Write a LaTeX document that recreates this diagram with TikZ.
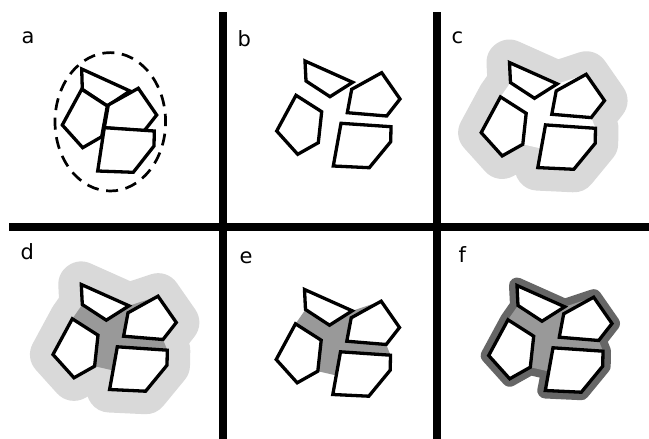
\documentclass[tikz,border=0pt]{standalone}
\usepackage{fontspec}
\setmainfont{DejaVu Sans}
\definecolor{halo}{HTML}{D9D9D9}
\definecolor{gapgray}{HTML}{999999}
\definecolor{rimgray}{HTML}{666666}
\tikzset{
  poly/.style={draw=black, fill=white, line width=3.3pt, line join=miter},
  hull/.style={insert path={(305,61) -- (352.7,82.3) -- (381.7,72.7) -- (400,99) -- (386.7,116) -- (391,126.7) -- (390.7,141.7) -- (369.3,167.7) -- (333.3,166) -- (337,147) -- (318.3,142.7) -- (297.7,154.3) -- (276.7,131) -- (296,95.3) -- (306,81) -- cycle}},
  lab/.style={font=\fontsize{21}{21}\selectfont, anchor=base west, inner sep=0pt},
  divider/.style={line width=7.5pt, line cap=butt},
  haloband/.style={draw=halo, fill=halo, line width=46pt, line join=round},
  rimband/.style={draw=rimgray, fill=rimgray, line width=16pt, line join=round},
}
\newcommand\fourpolys{%
  \path[poly] (305,61) -- (306,81) -- (330,96.7) -- (352.7,82.3) -- cycle;
  \path[poly] (351.7,89.3) -- (381.7,72.7) -- (400,99) -- (386.7,116) -- (347.3,112.7) -- cycle;
  \path[poly] (296,95.3) -- (321.7,111.7) -- (318.3,142.7) -- (297.7,154.3) -- (276.7,131) -- cycle;
  \path[poly] (341,123.3) -- (391,126.7) -- (390.7,141.7) -- (369.3,167.7) -- (333.3,166) -- cycle;
}
\begin{document}
\begin{tikzpicture}[x=1pt,y=-1pt]
\useasboundingbox (0,0) rectangle (649,439);
\fill[white] (0,0) rectangle (649,439);
% dividers
\draw[divider] (223,12) -- (223,439);
\draw[divider] (437,12) -- (437,439);
\draw[divider] (9,227) -- (649,227);
% labels
\node[lab] (la) at (21.5,43.3) {a};
\node[lab] (lb) at (237.5,46) {b};
\node[lab] (lc) at (451.5,43) {c};
\node[lab] (ld) at (20.5,259.3) {d};
\node[lab] (le) at (239.5,263.3) {e};
\node[lab] (lf) at (458.5,262.7) {f};
% panel a
\draw[line width=2.7pt, dash pattern=on 12pt off 7.6pt, dash phase=4pt] (110.3,121.8) ellipse [x radius=55.3pt, y radius=69.2pt];
\path[poly] (81.7,69) -- (82.3,89.3) -- (107.3,106) -- (130,91) -- cycle;
\path[poly] (108.3,105) -- (138.3,88.3) -- (156.7,115) -- (144.3,130.7) -- (104.3,127.7) -- cycle;
\path[poly] (81.7,89.3) -- (107.3,106) -- (101.7,136.7) -- (82.7,147.7) -- (62.3,125) -- cycle;
\path[poly] (104.3,127.7) -- (154.3,131) -- (154,146) -- (133.3,172.3) -- (97.7,171) -- cycle;
% panel b
\begin{scope}
  \fourpolys
\end{scope}
% panel c
\begin{scope}[shift={(204.5,1.6)}]
  \path[haloband, hull];
  \fill[white, hull];
  \fourpolys
\end{scope}
% panel d
\begin{scope}[shift={(-223.7,223.5)}]
  \path[haloband, hull];
  \fill[gapgray, hull];
  \fourpolys
\end{scope}
% panel e
\begin{scope}[shift={(-0.5,228.5)}]
  \fill[gapgray, hull];
  \fourpolys
\end{scope}
% panel f
\begin{scope}[shift={(212,224.5)}]
  \path[rimband, hull];
  \fill[gapgray, hull];
  \fourpolys
\end{scope}
\end{tikzpicture}
\end{document}
